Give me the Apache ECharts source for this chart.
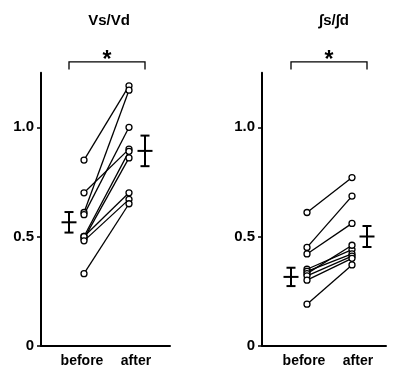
<!DOCTYPE html>
<html><head><meta charset="utf-8">
<script src="https://cdn.jsdelivr.net/npm/echarts@6/dist/echarts.min.js"></script>
<style>html,body{margin:0;padding:0;background:#fff}#c{width:394px;height:369px}</style>
</head><body><div id="c"></div>
<script>
// ---- data ----
const panelTitles = ['Vs/Vd', '\u222Bs/\u222Bd'];
const groupLabels = ['before', 'after'];
const yTicks = [0, 0.5, 1.0];
const vsBefore = [0.85, 0.61, 0.60, 0.70, 0.50, 0.49, 0.50, 0.48, 0.33];
const vsAfter  = [1.19, 1.17, 1.00, 0.90, 0.89, 0.86, 0.70, 0.67, 0.65];
const vsMean   = [0.565, 0.892];
const vsErr    = [0.047, 0.07];
const isBefore = [0.61, 0.45, 0.42, 0.35, 0.34, 0.33, 0.32, 0.30, 0.19];
const isAfter  = [0.77, 0.685, 0.56, 0.44, 0.42, 0.46, 0.41, 0.40, 0.37];
const isMean   = [0.315, 0.50];
const isErr    = [0.042, 0.048];
const sigMark  = '*';

// ---- layout ----
const FONT = 'Liberation Sans, Arial, sans-serif';
const panels = [
  {left: 41, width: 129, xB: 43, xA: 88, xMB: 28, xMA: 104, lblB: 41, lblA: 95, before: vsBefore, after: vsAfter, mean: vsMean, err: vsErr, titleX: 104},
  {left: 262, width: 124, xB: 45, xA: 90, xMB: 29, xMA: 105, lblB: 42, lblA: 96, before: isBefore, after: isAfter, mean: isMean, err: isErr, titleX: 329}
];
const TOP = 72.7, HEIGHT = 273, YMAX = 1.25;

const grids = [], xAxes = [], yAxes = [], series = [], titles = [];
panels.forEach((p, k) => {
  grids.push({left: p.left, top: TOP, width: p.width, height: HEIGHT});
  xAxes.push({
    gridIndex: k, type: 'value', min: 0, max: p.width, interval: 1,
    axisLine: {lineStyle: {color: '#000', width: 2}},
    axisTick: {show: false}, splitLine: {show: false},
    axisLabel: {
      interval: 0, margin: 8, color: '#000', fontFamily: FONT, fontWeight: 'bold', fontSize: 14,
      showMinLabel: true, showMaxLabel: true,
      formatter: v => v === p.lblB ? groupLabels[0] : (v === p.lblA ? groupLabels[1] : '')
    }
  });
  yAxes.push({
    gridIndex: k, type: 'value', min: 0, max: YMAX, interval: 0.5,
    axisLine: {show: true, lineStyle: {color: '#000', width: 2}},
    axisTick: {show: true, length: 4, lineStyle: {color: '#000', width: 1.5},
      customValues: yTicks},
    splitLine: {show: false},
    axisLabel: {
      margin: 7, color: '#000', fontFamily: FONT, fontWeight: 'bold', fontSize: 15,
      formatter: v => yTicks.indexOf(v) < 0 ? '' : (v === 0 ? '0' : v.toFixed(1))
    }
  });
  titles.push({
    text: panelTitles[k], left: p.titleX, top: 8, textAlign: 'center',
    textStyle: {fontFamily: FONT, fontWeight: 'bold', fontSize: 15, color: '#000'}
  });
  // paired lines
  p.before.forEach((b, i) => {
    series.push({
      type: 'line', xAxisIndex: k, yAxisIndex: k,
      data: [[p.xB, b], [p.xA, p.after[i]]],
      symbol: 'circle', symbolSize: 6, showSymbol: true,
      lineStyle: {color: '#000', width: 1.3},
      itemStyle: {color: '#fff', borderColor: '#000', borderWidth: 1.3},
      animation: false, silent: true, z: 3
    });
  });
  // mean +- error bars
  series.push({
    type: 'custom', xAxisIndex: k, yAxisIndex: k, clip: false, animation: false, silent: true,
    data: [[p.xMB, p.mean[0], p.mean[0] - p.err[0], p.mean[0] + p.err[0]],
           [p.xMA, p.mean[1], p.mean[1] - p.err[1], p.mean[1] + p.err[1]]],
    renderItem: (params, api) => {
      const x = api.value(0);
      const m = api.coord([x, api.value(1)]);
      const lo = api.coord([x, api.value(2)]);
      const hi = api.coord([x, api.value(3)]);
      const st = {stroke: '#000', lineWidth: 2};
      return {type: 'group', children: [
        {type: 'line', shape: {x1: m[0], y1: lo[1], x2: m[0], y2: hi[1]}, style: st},
        {type: 'line', shape: {x1: m[0] - 4.5, y1: lo[1], x2: m[0] + 4.5, y2: lo[1]}, style: st},
        {type: 'line', shape: {x1: m[0] - 4.5, y1: hi[1], x2: m[0] + 4.5, y2: hi[1]}, style: st},
        {type: 'line', shape: {x1: m[0] - 7.5, y1: m[1], x2: m[0] + 7.5, y2: m[1]}, style: st}
      ]};
    }
  });
  // significance bracket
  series.push({
    type: 'custom', xAxisIndex: k, yAxisIndex: k, clip: false, animation: false, silent: true,
    data: [[p.xMB, p.xMA, 1.265, 1.30]],
    renderItem: (params, api) => {
      const a = api.coord([api.value(0), api.value(2)]);
      const b = api.coord([api.value(0), api.value(3)]);
      const c = api.coord([api.value(1), api.value(3)]);
      const d = api.coord([api.value(1), api.value(2)]);
      return {type: 'group', children: [
        {type: 'polyline', shape: {points: [a, b, c, d]}, style: {stroke: '#000', lineWidth: 1.3, fill: null}},
        {type: 'text', style: {text: sigMark, x: (b[0] + c[0]) / 2, y: b[1] - 1, textAlign: 'center', textVerticalAlign: 'middle',
          font: 'bold 23px ' + FONT, fill: '#000'}}
      ]};
    }
  });
});

const chart = echarts.init(document.getElementById('c'), null, {renderer: 'canvas'});
chart.setOption({
  backgroundColor: '#fff', animation: false,
  title: titles, grid: grids, xAxis: xAxes, yAxis: yAxes, series: series
});
</script></body></html>
